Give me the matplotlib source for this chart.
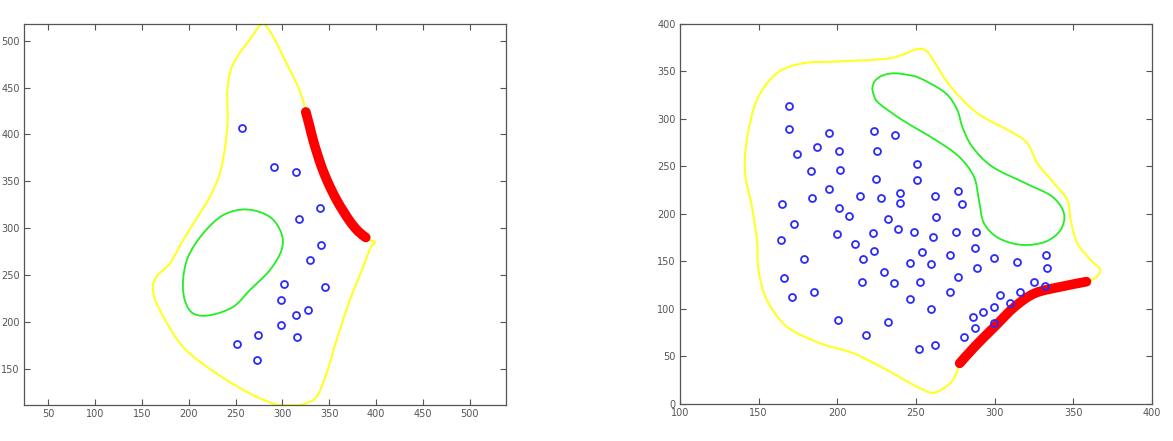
import numpy as np
import matplotlib
matplotlib.use('Agg')
from matplotlib import pyplot as plt
from matplotlib.path import Path
from matplotlib.patches import PathPatch

# ---- left panel ----
yel1_x = [278.7, 290.1, 304.4, 316.8, 322.9, 332.9, 345.3, 357.8, 372.1, 389.9, 398.8, 394.0, 386.3, 372.0,
          357.8, 347.1, 336.4, 322.1, 308.0, 292.0, 265.2, 229.6, 193.9, 169.0, 161.8, 165.4, 179.7, 193.9,
          211.7, 222.4, 233.1, 238.8, 241.5, 241.0, 244.5, 252.7, 265.0]
yel1_y = [517.8, 504.3, 475.9, 450.9, 433.1, 401.0, 365.4, 329.8, 304.8, 288.8, 285.3, 279.0, 258.5, 223.0,
          180.2, 144.7, 119.7, 111.9, 110.9, 112.0, 123.3, 144.7, 173.0, 212.3, 233.7, 247.9, 262.2, 287.1,
          315.6, 333.3, 358.3, 386.8, 415.0, 445.0, 468.0, 484.5, 501.0]
grn1_x = [261.7, 286.5, 299.0, 299.0, 286.5, 265.2, 247.3, 222.4, 204.6, 195.7, 193.9, 199.2, 215.2, 236.6]
grn1_y = [319.9, 312.0, 294.2, 276.4, 255.0, 233.7, 215.8, 206.9, 208.8, 223.0, 244.3, 269.2, 294.2, 313.8]
red1_x = [325.0, 329.0, 332.8, 337.0, 341.8, 347.0, 352.5, 359.0, 366.0, 373.0, 381.0, 389.0]
red1_y = [424.0, 409.0, 394.0, 380.0, 365.5, 352.5, 340.5, 328.0, 316.5, 306.0, 296.5, 290.0]
pts1_x = [257.3, 291.5, 314.0, 340.0, 317.9, 341.4, 329.7, 302.2, 346.0, 299.0, 327.5, 314.0, 299.0, 273.7,
          315.4, 251.3, 272.7]
pts1_y = [407.1, 365.4, 359.7, 321.6, 309.8, 282.4, 265.7, 240.7, 237.2, 222.9, 212.3, 207.6, 196.9, 186.3,
          183.8, 176.6, 158.8]

# ---- right panel ----
yel2_x = [250.6, 257.0, 262.0, 272.0, 289.0, 310.2, 320.8, 327.1, 337.7, 346.2, 348.3, 352.5, 361.0, 367.0,
          364.5, 358.3, 342.4, 325.5, 312.8, 300.0, 287.3, 277.8, 276.0, 271.7, 261.2, 250.6, 231.5, 210.3,
          189.1, 167.9, 155.2, 149.9, 148.9, 145.7, 141.4, 142.5, 148.9, 161.6, 178.5, 199.7, 233.6]
yel2_y = [373.4, 370.9, 359.0, 334.0, 306.0, 286.7, 274.4, 253.4, 232.3, 214.7, 193.7, 169.1, 151.6, 141.5,
          133.5, 128.7, 123.5, 116.5, 102.4, 81.4, 60.3, 42.8, 34.0, 21.8, 11.9, 18.2, 35.8, 53.3,
          63.9, 81.4, 109.5, 141.1, 172.6, 207.7, 242.8, 277.9, 320.0, 348.1, 358.6, 360.3, 363.9]
grn2_x = [229.0, 236.0, 244.0, 253.0, 268.8, 276.2, 279.4, 285.7, 298.4, 319.6, 336.6, 344.0, 341.9, 332.3,
          317.5, 302.7, 293.2, 290.0, 286.8, 277.3, 262.4, 241.2, 226.4, 223.2, 222.3, 224.2]
grn2_y = [345.8, 348.0, 346.5, 342.5, 327.1, 309.5, 291.9, 270.8, 249.8, 232.3, 218.2, 200.7, 183.2, 170.8,
          167.4, 174.4, 190.2, 214.7, 239.3, 260.3, 277.9, 298.9, 316.5, 325.0, 333.0, 340.5]
red2_x = [277.8, 287.3, 300.0, 312.8, 325.5, 342.4, 358.3]
red2_y = [42.8, 60.3, 81.4, 102.4, 116.5, 123.5, 128.7]
pts2_x = [169.3, 169.3, 195.0, 223.4, 236.5, 187.3, 201.1, 225.3, 174.2, 183.1, 201.8, 224.7, 250.9, 250.9,
          195.0, 183.7, 214.3, 228.0, 239.9, 239.9, 262.0, 276.6, 279.1, 165.1, 201.1, 207.5, 232.1, 262.6,
          172.7, 199.9, 222.5, 238.4, 248.8, 275.7, 288.3, 261.1, 164.4, 211.5, 223.4, 253.7, 287.6, 178.9,
          216.4, 245.9, 259.8, 271.7, 299.3, 314.3, 332.6, 288.9, 333.2, 166.4, 215.5, 229.5, 236.3, 252.4,
          276.6, 324.9, 331.7, 171.4, 185.0, 271.7, 303.5, 315.8, 246.1, 309.7, 259.8, 286.1, 292.3, 299.3,
          299.3, 287.6, 280.6, 200.5, 232.1, 218.5, 251.6, 262.0]
pts2_y = [313.3, 289.1, 285.6, 287.7, 283.2, 270.5, 266.7, 266.7, 263.2, 245.6, 246.7, 237.2, 252.6, 236.1,
          226.0, 216.5, 218.9, 216.5, 222.5, 211.9, 218.9, 224.6, 210.9, 210.9, 206.0, 197.5, 194.4, 196.5,
          189.5, 178.9, 180.4, 183.9, 181.4, 181.4, 181.4, 175.4, 172.3, 168.8, 161.4, 160.4, 163.9, 152.3,
          152.3, 148.8, 147.4, 156.8, 153.3, 149.8, 156.8, 142.8, 142.8, 132.3, 128.8, 139.3, 127.7, 128.8,
          133.3, 128.8, 124.2, 112.3, 118.2, 118.2, 114.7, 118.2, 110.2, 106.7, 99.6, 91.6, 97.2, 102.1,
          85.6, 79.6, 70.5, 88.8, 86.7, 72.6, 57.5, 62.1]

YEL = '#ffff22'
GRN = '#22ee22'
RED = '#ff0000'
BLU = '#2a2aff'


def smooth(x, y, closed):
    # curve through the read points, drawn as bezier segments
    p = np.column_stack([x, y])
    if closed:
        ext = np.vstack([p[-1:], p, p[:2]])
        nseg = len(p)
    else:
        ext = np.vstack([p[:1], p, p[-1:]])
        nseg = len(p) - 1
    verts = [ext[1]]
    codes = [Path.MOVETO]
    for i in range(nseg):
        p0, p1, p2, p3 = ext[i], ext[i + 1], ext[i + 2], ext[i + 3]
        verts += [p1 + (p2 - p0) / 6, p2 - (p3 - p1) / 6, p2]
        codes += [Path.CURVE4] * 3
    return Path(verts, codes)


fig = plt.figure(figsize=(11.73, 4.41), dpi=100)
ax1 = fig.add_axes([0.0205, 0.0816, 0.411, 0.864])
ax2 = fig.add_axes([0.5797, 0.0839, 0.4024, 0.862])


def draw(ax, yx, yy, gx, gy, rx, ry, px, py):
    ax.add_patch(PathPatch(smooth(yx, yy, True), fill=False, ec=YEL, lw=1.5, joinstyle='round'))
    ax.add_patch(PathPatch(smooth(gx, gy, True), fill=False, ec=GRN, lw=1.3, joinstyle='round'))
    ax.add_patch(PathPatch(smooth(rx, ry, False), fill=False, ec=RED, lw=7,
                           capstyle='round', joinstyle='round'))
    ax.plot(px, py, 'o', ls='none', mfc='none', mec=BLU, ms=5, mew=1.3)
    ax.tick_params(direction='in', top=True, right=True, length=4, width=0.8,
                   colors='#555555', labelsize=7, pad=3)
    for s in ax.spines.values():
        s.set_color('#555555')
        s.set_linewidth(0.9)


draw(ax1, yel1_x, yel1_y, grn1_x, grn1_y, red1_x, red1_y, pts1_x, pts1_y)
ax1.set_xlim(24, 539)
ax1.set_ylim(111, 518)
ax1.set_xticks(np.arange(50, 501, 50))
ax1.set_yticks(np.arange(150, 501, 50))

draw(ax2, yel2_x, yel2_y, grn2_x, grn2_y, red2_x, red2_y, pts2_x, pts2_y)
ax2.set_xlim(100, 400)
ax2.set_ylim(0, 400)
ax2.set_xticks(np.arange(100, 401, 50))
ax2.set_yticks(np.arange(0, 401, 50))

fig.savefig('out.png', dpi=100)
